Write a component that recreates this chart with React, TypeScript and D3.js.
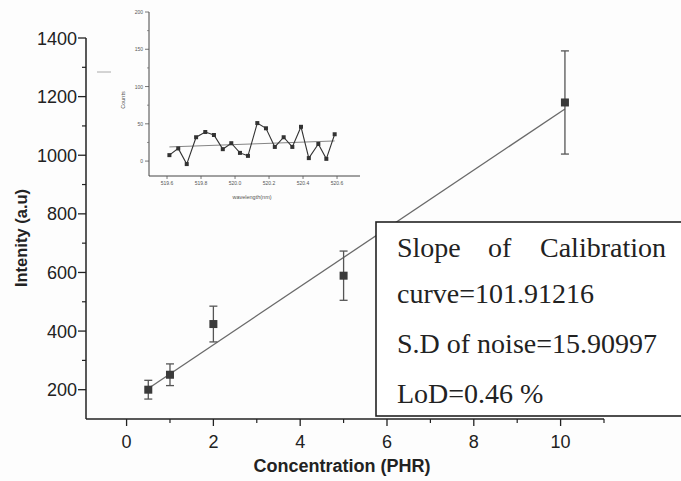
import React from "react";
import * as d3 from "d3";

// ---- Main calibration data ----
const concentration = [0.5, 1, 2, 5, 10.1];
const intensity = [200, 251, 424, 589, 1180];
const errorBar = [32, 37, 61, 84, 176];
const fitX = [0.5, 10.1];
const fitY = [204, 1158];
const yTicksMajor = [200, 400, 600, 800, 1000, 1200, 1400];
const yTicksMinor = [300, 500, 700, 900, 1100, 1300];
const xTicksMajor = [0, 2, 4, 6, 8, 10];
const xTicksMinor = [1, 3, 5, 7, 9, 11];
const boxLines = ["curve=101.91216", "S.D of noise=15.90997", "LoD=0.46 %"];
const boxFirstWords = ["Slope", "of", "Calibration"];

// ---- Inset (noise spectrum) data ----
const insetWavelength = [
  519.614, 519.666, 519.716, 519.771, 519.825, 519.876, 519.928, 519.978, 520.029, 520.076,
  520.131, 520.182, 520.234, 520.286, 520.337, 520.388, 520.434, 520.49, 520.537, 520.586,
];
const insetCounts = [8, 17, -4, 32, 39, 35, 16, 24, 11, 7, 51, 44, 19, 32, 19, 46, 4, 23, 3, 36];
const insetFitX = [519.614, 520.586];
const insetFitY = [19, 27];
const insetXTicks = [519.6, 519.8, 520.0, 520.2, 520.4, 520.6];
const insetXLabels = ["519.6", "519.8", "520.0", "520.2", "520.4", "520.6"];
const insetYTicks = [0, 50, 100, 150, 200];
const insetYMinor = [25, 75, 125, 175];

export default function App() {
  const W = 681, H = 481;
  const x = d3.scaleLinear().domain([-0.935, 11]).range([86, 604]);
  const y = d3.scaleLinear().domain([100, 1400]).range([419, 38]);

  const ix = d3.scaleLinear().domain([519.494, 520.735]).range([149, 360]);
  const iy = d3.scaleLinear().domain([-20, 200]).range([176, 12]);

  const fitLine = d3.line<[number, number]>()(
    fitX.map((v, i) => [x(v), y(fitY[i])] as [number, number])
  );
  const insetLine = d3.line<[number, number]>()(
    insetWavelength.map((w, i) => [ix(w), iy(insetCounts[i])] as [number, number])
  );
  const insetFit = d3.line<[number, number]>()(
    insetFitX.map((w, i) => [ix(w), iy(insetFitY[i])] as [number, number])
  );

  const sans = "'Liberation Sans', Arial, sans-serif";
  const serif = "'Liberation Serif', 'Times New Roman', serif";
  const ink = "#222";

  return (
    <svg width={W} height={H} style={{ position: "absolute", left: 0, top: 0, background: "#fff" }}>
      <rect x={0} y={0} width={W} height={H} fill="#fdfdfd" />

      {/* Fit line */}
      <path d={fitLine || ""} stroke="#6a6a6a" strokeWidth={1.3} fill="none" />

      {/* Error bars and markers */}
      {concentration.map((c, i) => {
        const cx = x(c);
        const top = y(intensity[i] + errorBar[i]);
        const bot = y(intensity[i] - errorBar[i]);
        return (
          <g key={i}>
            <line x1={cx} x2={cx} y1={top} y2={bot} stroke="#555" strokeWidth={1.3} />
            <line x1={cx - 4} x2={cx + 4} y1={top} y2={top} stroke="#555" strokeWidth={1.3} />
            <line x1={cx - 4} x2={cx + 4} y1={bot} y2={bot} stroke="#555" strokeWidth={1.3} />
            <rect x={cx - 4} y={y(intensity[i]) - 4} width={8} height={8} fill="#3a3a3a" />
          </g>
        );
      })}

      {/* Axes */}
      <line x1={x.range()[0]} x2={x.range()[0]} y1={y.range()[1]} y2={y.range()[0]} stroke={ink} strokeWidth={1.5} />
      <line x1={x.range()[0]} x2={x.range()[1]} y1={y.range()[0]} y2={y.range()[0]} stroke={ink} strokeWidth={1.5} />
      {yTicksMajor.map((t) => (
        <g key={"ym" + t}>
          <line x1={x.range()[0] - 8} x2={x.range()[0]} y1={y(t)} y2={y(t)} stroke={ink} strokeWidth={1.3} />
          <text x={77} y={y(t) + 6.5} textAnchor="end" fontFamily={sans} fontSize={18} fill={ink}>
            {t}
          </text>
        </g>
      ))}
      {yTicksMinor.map((t) => (
        <line key={"yn" + t} x1={x.range()[0] - 4} x2={x.range()[0]} y1={y(t)} y2={y(t)} stroke={ink} strokeWidth={1.2} />
      ))}
      {xTicksMajor.map((t) => (
        <g key={"xm" + t}>
          <line x1={x(t)} x2={x(t)} y1={y.range()[0]} y2={y.range()[0] + 7} stroke={ink} strokeWidth={1.3} />
          <text x={x(t)} y={448} textAnchor="middle" fontFamily={sans} fontSize={18} fill={ink}>
            {t}
          </text>
        </g>
      ))}
      {xTicksMinor.map((t) => (
        <line key={"xn" + t} x1={x(t)} x2={x(t)} y1={y.range()[0]} y2={y.range()[0] + 4} stroke={ink} strokeWidth={1.2} />
      ))}

      {/* Axis titles */}
      <text x={342} y={472} textAnchor="middle" fontFamily={sans} fontWeight="bold" fontSize={18} fill={ink}>
        Concentration (PHR)
      </text>
      <text
        transform="translate(27,238) rotate(-90)"
        textAnchor="middle"
        fontFamily={sans}
        fontWeight="bold"
        fontSize={16.5}
        fill={ink}
      >
        Intenity (a.u)
      </text>

      {/* Text box */}
      <rect x={376} y={222} width={320} height={194} fill="#fff" stroke={ink} strokeWidth={1.6} />
      <g fontFamily={serif} fontSize={28} fill={ink}>
        <text x={397} y={257}>{boxFirstWords[0]}</text>
        <text x={488} y={257}>{boxFirstWords[1]}</text>
        <text x={540} y={257}>{boxFirstWords[2]}</text>
        {boxLines.map((s, i) => (
          <text key={i} x={397} y={303 + i * 50}>
            {s}
          </text>
        ))}
      </g>

      {/* stray mark */}
      <line x1={97} x2={111} y1={72} y2={72} stroke="#aaa" strokeWidth={1} />

      {/* Inset */}
      <g>
        <line x1={ix.range()[0]} x2={ix.range()[0]} y1={iy.range()[1]} y2={iy.range()[0]} stroke="#444" strokeWidth={1} />
        <line x1={ix.range()[0]} x2={ix.range()[1]} y1={iy.range()[0]} y2={iy.range()[0]} stroke="#444" strokeWidth={1} />
        {insetYTicks.map((t) => (
          <g key={"iy" + t}>
            <line x1={ix.range()[0] - 4} x2={ix.range()[0]} y1={iy(t)} y2={iy(t)} stroke="#555" strokeWidth={0.8} />
            <text x={ix.range()[0] - 6} y={iy(t) + 2} textAnchor="end" fontFamily={sans} fontSize={5} fill="#555">
              {t}
            </text>
          </g>
        ))}
        {insetYMinor.map((t) => (
          <line key={"iyn" + t} x1={ix.range()[0] - 2} x2={ix.range()[0]} y1={iy(t)} y2={iy(t)} stroke="#666" strokeWidth={0.7} />
        ))}
        {insetXTicks.map((t, i) => (
          <g key={"ix" + t}>
            <line x1={ix(t)} x2={ix(t)} y1={iy.range()[0]} y2={iy.range()[0] + 3} stroke="#555" strokeWidth={0.8} />
            <text x={ix(t)} y={iy.range()[0] + 9} textAnchor="middle" fontFamily={sans} fontSize={5} fill="#555">
              {insetXLabels[i]}
            </text>
          </g>
        ))}
        <text x={252} y={199} textAnchor="middle" fontFamily={sans} fontSize={5.5} fill="#555">
          wavelength(nm)
        </text>
        <text transform="translate(125,100) rotate(-90)" textAnchor="middle" fontFamily={sans} fontSize={5.5} fill="#555">
          Counts
        </text>
        <path d={insetFit || ""} stroke="#777" strokeWidth={0.9} fill="none" />
        <path d={insetLine || ""} stroke="#333" strokeWidth={1.1} fill="none" />
        {insetWavelength.map((w, i) => (
          <rect key={i} x={ix(w) - 2} y={iy(insetCounts[i]) - 2} width={4} height={4} fill="#333" />
        ))}
      </g>
    </svg>
  );
}
